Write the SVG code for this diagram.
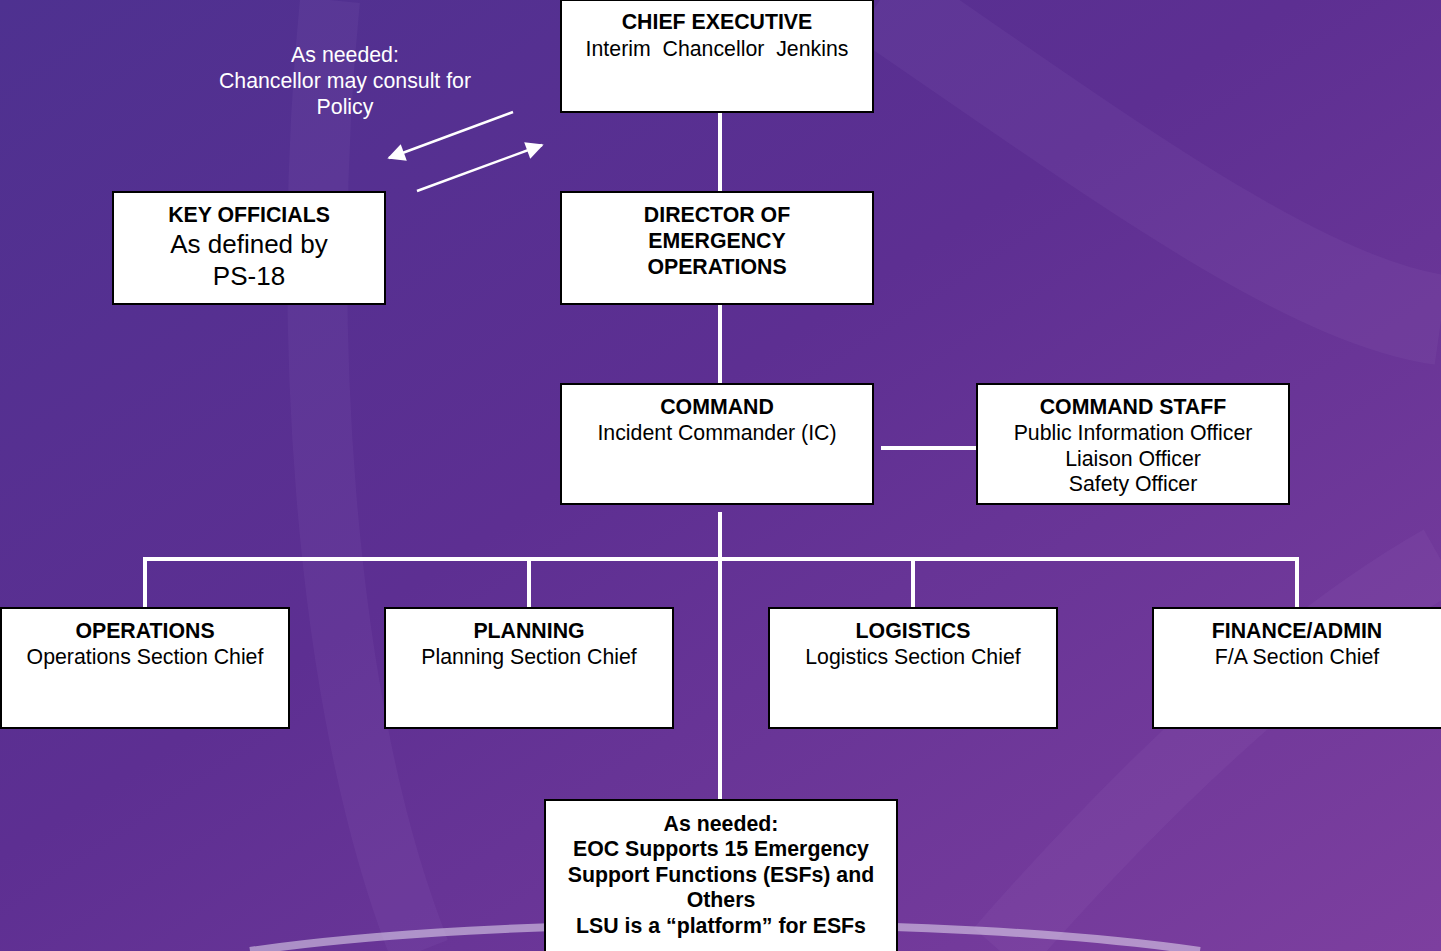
<svg xmlns="http://www.w3.org/2000/svg" width="1441" height="951" viewBox="0 0 1441 951">
<defs>
<linearGradient id="bg" x1="0" y1="0" x2="1" y2="1">
<stop offset="0" stop-color="#4e3190"/>
<stop offset="0.45" stop-color="#5d2f92"/>
<stop offset="1" stop-color="#7d3f9f"/>
</linearGradient>
<marker id="ah" viewBox="0 0 10 10" refX="9" refY="5" markerWidth="8" markerHeight="7" orient="auto" markerUnits="strokeWidth">
<path d="M0,0 L10,5 L0,10 z" fill="#ffffff"/>
</marker>
<style>
.box{fill:#ffffff;stroke:#000000;stroke-width:2}
.t{font-family:"Liberation Sans",Arial,sans-serif;font-size:21.3px;fill:#000000;text-anchor:middle}
.b{font-weight:bold}
.w{fill:#ffffff}
.big{font-size:26px}
.c{stroke:#ffffff;stroke-width:4;fill:none}
</style>
</defs>
<rect width="1441" height="951" fill="url(#bg)"/>
<g opacity="0.06" fill="none" stroke="#c9b0e6">
<path d="M330,0 C300,300 320,700 420,951" stroke-width="60"/>
<path d="M880,0 C1100,150 1300,300 1441,320" stroke-width="90"/>
<path d="M1000,951 C1150,780 1300,640 1441,560" stroke-width="70"/>
</g>
<path d="M250,951 C500,915 950,915 1200,951" fill="none" stroke="#e6dcf0" stroke-width="8" opacity="0.55"/>

<g id="connectors">
<line class="c" x1="720" y1="112" x2="720" y2="192"/>
<line class="c" x1="720" y1="304" x2="720" y2="384"/>
<line class="c" x1="720" y1="512" x2="720" y2="800"/>
<line class="c" x1="881" y1="448" x2="977" y2="448" stroke-width="5"/>
<polyline class="c" points="145,608 145,559 1297,559 1297,608"/>
<line class="c" x1="529" y1="559" x2="529" y2="608"/>
<line class="c" x1="913" y1="559" x2="913" y2="608"/>
<line x1="513" y1="112" x2="389" y2="158" stroke="#fff" stroke-width="2.5" marker-end="url(#ah)"/>
<line x1="417" y1="191" x2="542" y2="145" stroke="#fff" stroke-width="2.5" marker-end="url(#ah)"/>
</g>

<g id="note">
<text class="t w" x="345" y="62">As needed:</text>
<text class="t w" x="345" y="88">Chancellor may consult for</text>
<text class="t w" x="345" y="114">Policy</text>
</g>

<g id="chief">
<rect class="box" x="561" y="0" width="312" height="112"/>
<text class="t b" x="717" y="29">CHIEF EXECUTIVE</text>
<text class="t" x="717" y="56" xml:space="preserve">Interim  Chancellor  Jenkins</text>
</g>

<g id="key">
<rect class="box" x="113" y="192" width="272" height="112"/>
<text class="t b" x="249" y="222">KEY OFFICIALS</text>
<text class="t big" x="249" y="253">As defined by</text>
<text class="t big" x="249" y="285">PS-18</text>
</g>

<g id="director">
<rect class="box" x="561" y="192" width="312" height="112"/>
<text class="t b" x="717" y="222">DIRECTOR OF</text>
<text class="t b" x="717" y="248">EMERGENCY</text>
<text class="t b" x="717" y="274">OPERATIONS</text>
</g>

<g id="command">
<rect class="box" x="561" y="384" width="312" height="120"/>
<text class="t b" x="717" y="414">COMMAND</text>
<text class="t" x="717" y="440">Incident Commander (IC)</text>
</g>

<g id="staff">
<rect class="box" x="977" y="384" width="312" height="120"/>
<text class="t b" x="1133" y="414">COMMAND STAFF</text>
<text class="t" x="1133" y="440">Public Information Officer</text>
<text class="t" x="1133" y="466">Liaison Officer</text>
<text class="t" x="1133" y="491">Safety Officer</text>
</g>

<g id="operations">
<rect class="box" x="1" y="608" width="288" height="120"/>
<text class="t b" x="145" y="638">OPERATIONS</text>
<text class="t" x="145" y="664">Operations Section Chief</text>
</g>

<g id="planning">
<rect class="box" x="385" y="608" width="288" height="120"/>
<text class="t b" x="529" y="638">PLANNING</text>
<text class="t" x="529" y="664">Planning Section Chief</text>
</g>

<g id="logistics">
<rect class="box" x="769" y="608" width="288" height="120"/>
<text class="t b" x="913" y="638">LOGISTICS</text>
<text class="t" x="913" y="664">Logistics Section Chief</text>
</g>

<g id="finance">
<rect class="box" x="1153" y="608" width="289" height="120"/>
<text class="t b" x="1297" y="638">FINANCE/ADMIN</text>
<text class="t" x="1297" y="664">F/A Section Chief</text>
</g>

<g id="esf">
<rect class="box" x="545" y="800" width="352" height="160"/>
<text class="t b" x="721" y="831">As needed:</text>
<text class="t b" x="721" y="856">EOC Supports 15 Emergency</text>
<text class="t b" x="721" y="882">Support Functions (ESFs) and</text>
<text class="t b" x="721" y="907">Others</text>
<text class="t b" x="721" y="933">LSU is a “platform” for ESFs</text>
</g>
</svg>
